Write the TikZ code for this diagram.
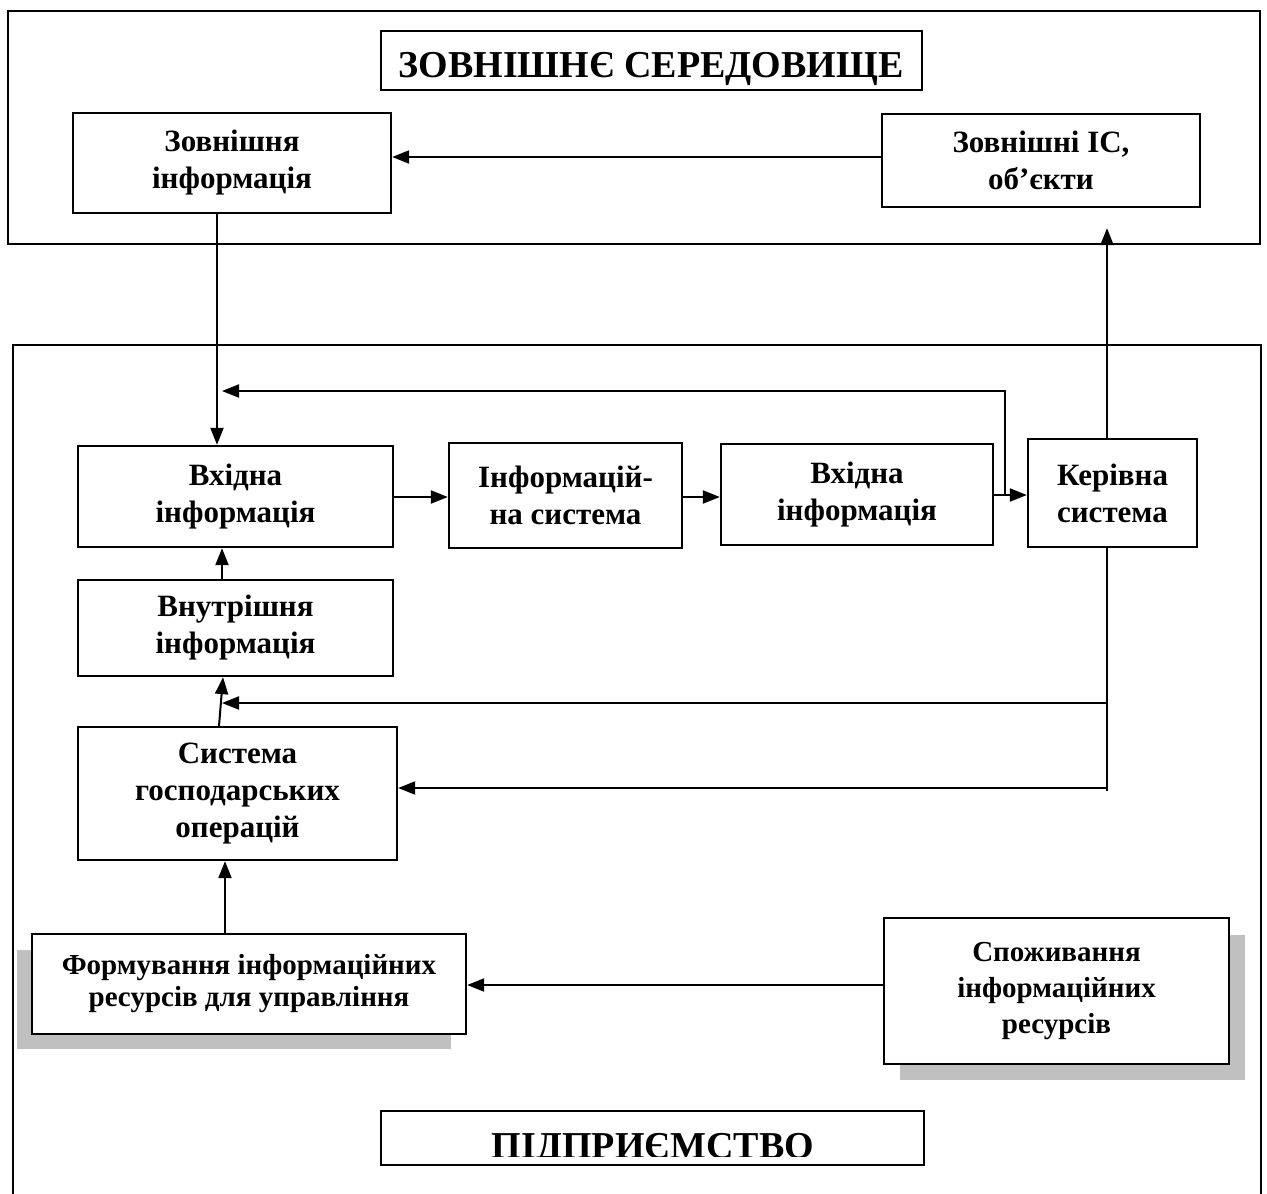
\documentclass[tikz,border=0pt]{standalone}
\usepackage{fontspec}
\setmainfont{Liberation Serif}
\usetikzlibrary{arrows.meta}
\definecolor{shadowgray}{HTML}{C0C0C0}
\begin{document}
\begin{tikzpicture}[x=1pt,y=-1pt,
  box/.style={draw, line width=2.3pt, fill=white, inner sep=0pt, align=center,
    font=\bfseries\fontsize{31}{37}\selectfont},
  titlebox/.style={draw, line width=2.6pt, fill=white, inner sep=0pt},
  titletext/.style={anchor=base, inner sep=0pt, font=\bfseries\fontsize{38}{44}\selectfont},
  frame/.style={line width=2.6pt},
  conn/.style={line width=2pt, -{Triangle[length=17pt,width=13pt]}},
  plain/.style={line width=2pt},
]
\useasboundingbox (0,0) rectangle (1267,1194);

% outer frames
\draw[frame] (8,11) rectangle (1260,244);
\draw[frame] (13,1200) -- (13,345) -- (1261,345) -- (1261,1200);

% external environment
\node[titlebox, minimum width=541pt, minimum height=59pt] (envtitle) at (651.5,60.5) {};
\node[titletext] (envlabel) at (651,77) {ЗОВНІШНЄ СЕРЕДОВИЩЕ};
\node[box, minimum width=318pt, minimum height=100pt] (extinfo) at (232,163) {Зовнішня\\інформація};
\node[box, minimum width=318pt, minimum height=93pt] (extis) at (1041,160.5) {Зовнішні ІС,\\об’єкти};

% enterprise
\node[box, minimum width=315pt, minimum height=101pt] (in1) at (235.5,496.5) {Вхідна\\інформація};
\node[box, minimum width=233pt, minimum height=105pt] (infsys) at (565.5,495.5) {Інформацій-\\на система};
\node[box, minimum width=272pt, minimum height=101pt] (in2) at (857,494.5) {Вхідна\\інформація};
\node[box, minimum width=169pt, minimum height=108pt] (ctrl) at (1112.5,493) {Керівна\\система};
\node[box, minimum width=315pt, minimum height=96pt] (intinfo) at (235.5,628) {Внутрішня\\інформація};
\node[box, minimum width=319pt, minimum height=133pt] (ops) at (237.5,793.5) {Система\\господарських\\операцій};

% shadowed boxes
\fill[shadowgray] (17,950) rectangle (451,1049);
\fill[shadowgray] (900,935) rectangle (1245,1080);
\node[box, minimum width=434pt, minimum height=100pt, font=\bfseries\fontsize{29}{32}\selectfont] (form) at (249,984) {Формування інформаційних\\ресурсів для управління};
\node[box, minimum width=345pt, minimum height=146pt, font=\bfseries\fontsize{29}{36}\selectfont] (cons) at (1056.5,991) {Споживання\\інформаційних\\ресурсів};

% enterprise title, its text cut off by the frame of the text field
\node[titlebox, minimum width=543pt, minimum height=54pt] (enttitle) at (652.5,1138) {};
\begin{scope}
  \clip (381,1111) rectangle (924,1156);
  \node[titletext] (entlabel) at (653,1158) {ПІДПРИЄМСТВО};
\end{scope}

% columns and rows for connectors
\coordinate (colA) at (217,0);
\coordinate (colB) at (222,0);
\coordinate (colF) at (225,0);
\coordinate (colC) at (1107,0);
\coordinate (rowTop) at (0,157);
\coordinate (rowMid) at (0,497);
\coordinate (rowCtl) at (0,495);
\coordinate (rowFb) at (0,391);
\coordinate (rowOut) at (0,985);
\coordinate (fb) at (1005,495);
\coordinate (j1) at (1107,703);
\coordinate (j2) at (1107,788);
\coordinate (jend) at (1107,791);

% connectors
\draw[conn] (extis.west |- rowTop) -- (extinfo.east |- rowTop);
\draw[conn] (colA |- extinfo.south) -- (colA |- in1.north);
\draw[conn] (fb) |- (colB |- rowFb);
\draw[conn] (in1.east |- rowMid) -- (infsys.west |- rowMid);
\draw[conn] (infsys.east |- rowMid) -- (in2.west |- rowMid);
\draw[conn] (in2.east |- rowCtl) -- (ctrl.west |- rowCtl);
\draw[conn, shorten >=20pt] (colC |- ctrl.north) -- (colC |- extis.south);
\draw[conn] (colB |- intinfo.north) -- (colB |- in1.south);
\draw[conn] ([xshift=-18.5pt]ops.north) -- ([xshift=-12.5pt]intinfo.south);
\draw[plain] (colC |- ctrl.south) -- (jend);
\draw[conn] (j1) -- (colB |- j1);
\draw[conn] (j2) -- (ops.east |- j2);
\draw[conn] (colF |- form.north) -- (colF |- ops.south);
\draw[conn] (cons.west |- rowOut) -- (form.east |- rowOut);
\end{tikzpicture}
\end{document}
